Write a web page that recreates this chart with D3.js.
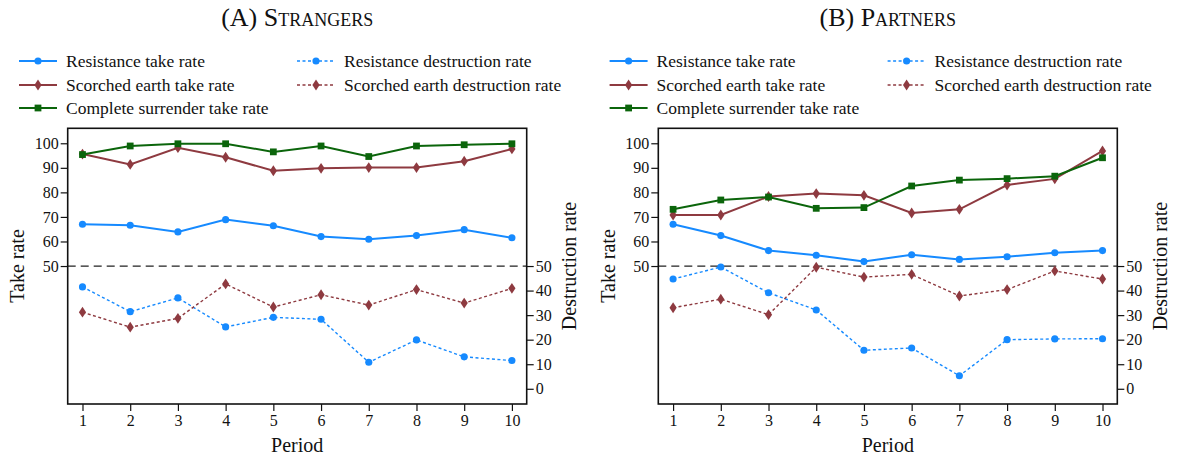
<!DOCTYPE html>
<html>
<head>
<meta charset="utf-8">
<script src="https://cdn.jsdelivr.net/npm/d3@7"></script>
<style>
  html, body { margin: 0; padding: 0; background: #fff; }
  svg { display: block; }
  svg text { font-family: "Liberation Serif", "Times New Roman", serif !important; fill: #111; }
  .title { font-variant: small-caps; }
</style>
</head>
<body>
<svg id="chart" width="1182" height="459"></svg>
<script>
// Periods on the x axis
const periods = [1, 2, 3, 4, 5, 6, 7, 8, 9, 10];

// Panel A: strangers matching
const strangersResistanceTake     = [67.0, 66.6, 63.9, 68.9, 66.4, 62.0, 60.9, 62.4, 64.8, 61.5];
const strangersScorchedTake       = [95.6, 91.4, 98.2, 94.3, 88.8, 89.8, 90.1, 90.1, 92.7, 97.7];
const strangersSurrenderTake      = [95.4, 98.9, 99.8, 99.8, 96.5, 98.9, 94.6, 98.9, 99.4, 99.8];
const strangersResistanceDestroy  = [41.5, 31.4, 37.0, 25.2, 29.1, 28.3, 10.8, 19.9, 13.0, 11.5];
const strangersScorchedDestroy    = [31.2, 25.1, 28.7, 42.7, 33.3, 38.3, 34.1, 40.4, 34.9, 40.9];

// Panel B: partners matching
const partnersResistanceTake      = [67.0, 62.4, 56.3, 54.4, 51.8, 54.6, 52.7, 53.8, 55.4, 56.3];
const partnersScorchedTake        = [70.8, 70.8, 78.3, 79.5, 78.8, 71.6, 73.1, 83.0, 85.5, 96.9];
const partnersSurrenderTake       = [73.1, 76.9, 78.1, 73.5, 73.8, 82.6, 85.0, 85.6, 86.6, 94.1];
const partnersResistanceDestroy   = [44.7, 49.6, 39.1, 32.1, 15.7, 16.6, 5.3, 20.0, 20.3, 20.4];
const partnersScorchedDestroy     = [33.0, 36.5, 30.2, 49.5, 45.5, 46.6, 37.8, 40.4, 48.0, 44.7];

// Axis ticks
const takeTicks = [50, 60, 70, 80, 90, 100];
const destroyTicks = [0, 10, 20, 30, 40, 50];
const referenceLevel = 50;

// Panel titles and legend labels
const panelTitles = ["(A) Strangers", "(B) Partners"];
const legendLabels = [
  "Resistance take rate", "Resistance destruction rate",
  "Scorched earth take rate", "Scorched earth destruction rate",
  "Complete surrender take rate"
];

const BLUE = "#168aff", MAROON = "#8e3a40", GREEN = "#0b650b";
const SERIF = "'Liberation Serif', 'Times New Roman', serif";

const seriesStyle = [
  { color: BLUE,   dash: null,    marker: "circle"  },
  { color: BLUE,   dash: "3,2.5", marker: "circle"  },
  { color: MAROON, dash: null,    marker: "diamond" },
  { color: MAROON, dash: "3,2.5", marker: "diamond" },
  { color: GREEN,  dash: null,    marker: "square"  }
];

const panels = [
  { title: panelTitles[0], ox: 0,
    series: [strangersResistanceTake, strangersResistanceDestroy, strangersScorchedTake,
             strangersScorchedDestroy, strangersSurrenderTake] },
  { title: panelTitles[1], ox: 590.6,
    series: [partnersResistanceTake, partnersResistanceDestroy, partnersScorchedTake,
             partnersScorchedDestroy, partnersSurrenderTake] }
];

const svg = d3.select("#chart");

const symbolFor = {
  circle:  d3.symbol().type(d3.symbolCircle).size(40),
  diamond: d3.symbol().type(d3.symbolDiamond).size(34),
  square:  d3.symbol().type(d3.symbolSquare).size(46)
};

function drawMarker(g, kind, color, x, y) {
  g.append("path")
    .attr("d", symbolFor[kind]())
    .attr("transform", kind === "diamond"
      ? `translate(${x},${y}) scale(1.15,1)` : `translate(${x},${y})`)
    .attr("fill", color);
}

panels.forEach(p => {
  const left = 67.7, right = 526.7, top = 128.3, bottom = 404;
  const g = svg.append("g").attr("transform", `translate(${p.ox},0)`);

  const x = d3.scaleLinear().domain([0.69, 10.31]).range([left, right]);
  // Take rate and destruction rate share one vertical scale
  const y = d3.scaleLinear().domain([-6.2, 106.1]).range([bottom, top]);

  // Title
  g.append("text").attr("class", "title")
    .attr("x", (left + right) / 2).attr("y", 26)
    .attr("text-anchor", "middle")
    .style("font-family", SERIF).style("font-size", "26px")
    .text(p.title);

  // Legend (two columns, three rows)
  const legendPos = [
    [19, 61], [297, 61], [19, 85], [297, 85], [19, 108]
  ];
  legendLabels.forEach((lab, i) => {
    const s = seriesStyle[i];
    const [lx, ly] = legendPos[i];
    const lg = g.append("g");
    lg.append("line")
      .attr("x1", lx).attr("x2", lx + 38).attr("y1", ly).attr("y2", ly)
      .attr("stroke", s.color)
      .attr("stroke-width", s.dash ? 1.4 : 2)
      .attr("stroke-dasharray", s.dash);
    drawMarker(lg, s.marker, s.color, lx + 19, ly);
    lg.append("text")
      .attr("x", lx + 47).attr("y", ly + 5.5)
      .style("font-family", SERIF).style("font-size", "17.5px")
      .text(lab);
  });

  // Reference line at 50
  g.append("line")
    .attr("x1", left).attr("x2", right)
    .attr("y1", y(referenceLevel)).attr("y2", y(referenceLevel))
    .attr("stroke", "#222").attr("stroke-width", 1.2)
    .attr("stroke-dasharray", "8,5");

  // Series
  const line = d3.line().x((d, i) => x(periods[i])).y(d => y(d));
  p.series.forEach((vals, i) => {
    const s = seriesStyle[i];
    g.append("path")
      .datum(vals)
      .attr("d", line)
      .attr("fill", "none")
      .attr("stroke", s.color)
      .attr("stroke-width", s.dash ? 1.4 : 2)
      .attr("stroke-dasharray", s.dash);
    vals.forEach((v, j) => drawMarker(g, s.marker, s.color, x(periods[j]), y(v)));
  });

  // Frame
  g.append("rect")
    .attr("x", left).attr("y", top)
    .attr("width", right - left).attr("height", bottom - top)
    .attr("fill", "none").attr("stroke", "#111").attr("stroke-width", 1.6);

  // Axes
  const xAxis = g.append("g").attr("transform", `translate(0,${bottom})`)
    .call(d3.axisBottom(x).tickValues(periods).tickSize(7).tickPadding(4));
  const yAxisL = g.append("g").attr("transform", `translate(${left},0)`)
    .call(d3.axisLeft(y).tickValues(takeTicks).tickSize(7).tickPadding(2));
  const yAxisR = g.append("g").attr("transform", `translate(${right},0)`)
    .call(d3.axisRight(y).tickValues(destroyTicks).tickSize(7).tickPadding(2));
  [xAxis, yAxisL, yAxisR].forEach(a => {
    a.attr("font-family", null).attr("font-size", null);
    a.select(".domain").remove();
    a.selectAll(".tick line").attr("stroke", "#111").attr("stroke-width", 1.2);
    a.selectAll(".tick text")
      .style("font-family", SERIF).style("font-size", "16px").attr("fill", "#111");
  });

  // Axis titles
  g.append("text")
    .attr("x", (left + right) / 2).attr("y", 451.5)
    .attr("text-anchor", "middle")
    .style("font-family", SERIF).style("font-size", "20px")
    .text("Period");
  g.append("text")
    .attr("transform", `translate(24,${y(referenceLevel)}) rotate(-90)`)
    .attr("text-anchor", "middle")
    .style("font-family", SERIF).style("font-size", "20px")
    .text("Take rate");
  g.append("text")
    .attr("transform", `translate(576,${y(referenceLevel)}) rotate(-90)`)
    .attr("text-anchor", "middle")
    .style("font-family", SERIF).style("font-size", "20px")
    .text("Destruction rate");
});
</script>
</body>
</html>
